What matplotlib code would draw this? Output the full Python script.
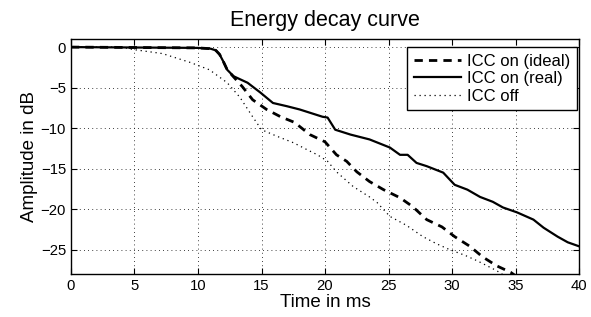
import matplotlib
matplotlib.use("Agg")
import matplotlib.pyplot as plt

plt.rcParams['font.family'] = ['Liberation Sans', 'DejaVu Sans']

# ICC on (real)
t_real = [0, 5, 10, 11, 11.4, 11.7, 12.0, 12.3, 12.8, 13.9, 14.9, 15.9, 17.0, 18.0,
          19.0, 19.8, 20.2, 20.8, 22.0, 23.5, 25.1, 25.9, 26.5, 27.2, 28.0, 29.3,
          30.2, 31.2, 32.2, 33.2, 34.0, 35.1, 36.4, 37.2, 38.3, 39.1, 40]
y_real = [0, -0.05, -0.1, -0.2, -0.4, -0.9, -1.8, -2.8, -3.6, -4.4, -5.6, -6.9, -7.3,
          -7.7, -8.2, -8.6, -8.7, -10.2, -10.8, -11.4, -12.4, -13.3, -13.3, -14.3,
          -14.7, -15.5, -17.0, -17.6, -18.5, -19.1, -19.8, -20.4, -21.3, -22.3,
          -23.4, -24.1, -24.6]

# ICC on (ideal)
t_ideal = [0, 5, 10, 11, 11.4, 11.7, 12.0, 12.3, 13.5, 14.3, 15.4, 16.5, 17.6, 18.8,
           20.0, 20.9, 21.7, 22.5, 23.5, 24.6, 25.9, 26.9, 28.0, 29.2, 30.2, 31.4,
           32.4, 33.5, 34.6, 35.5]
y_ideal = [0, -0.05, -0.1, -0.2, -0.4, -0.9, -1.8, -2.8, -4.9, -6.5, -7.7, -8.6, -9.3,
           -10.8, -11.7, -13.3, -14.1, -15.4, -16.6, -17.6, -18.6, -19.7, -21.3,
           -22.2, -23.4, -24.6, -25.9, -27.0, -27.8, -28.8]

# ICC off
t_off = [0, 4, 4.9, 7.2, 9.4, 10.9, 12.3, 13.3, 14.3, 15.0, 16.2, 17.5, 18.5, 19.4,
         20.2, 20.9, 22.2, 23.5, 24.1, 25.1, 26.4, 27.7, 28.8, 29.8, 31.0, 32.0,
         33.5, 34.5]
y_off = [0, 0, -0.3, -0.8, -1.9, -2.8, -4.4, -6.2, -8.6, -10.2, -11.0, -11.8, -12.6,
         -13.3, -14.1, -15.4, -17.2, -18.5, -19.2, -20.9, -22.0, -23.4, -24.3, -25.0,
         -25.7, -26.4, -27.6, -28.6]

fig = plt.figure(figsize=(5.91, 3.17), dpi=100)
ax = fig.add_axes([0.120, 0.136, 0.860, 0.741])

ax.plot(t_ideal, y_ideal, color='black', lw=2.0, linestyle=(0, (3, 2.2)), label='ICC on (ideal)')
ax.plot(t_real, y_real, color='black', lw=1.6, linestyle='-', label='ICC on (real)')
ax.plot(t_off, y_off, color='black', lw=0.9, linestyle=(0, (1, 3)), label='ICC off')

ax.set_xlim(0, 40)
ax.set_ylim(-28, 1)
ax.set_xticks(range(0, 41, 5))
ax.set_yticks([0, -5, -10, -15, -20, -25])
ax.set_yticklabels(['0', '\u22125', '\u221210', '\u221215', '\u221220', '\u221225'])
ax.grid(True, color='black', linestyle=(0, (1, 4)), linewidth=0.6)
ax.tick_params(direction='in', top=True, right=True, labelsize=10.7, length=4, width=0.8)
for s in ax.spines.values():
    s.set_linewidth(1.0)

ax.set_title('Energy decay curve', fontsize=15.5, pad=9)
ax.set_xlabel('Time in ms', fontsize=13.5, labelpad=1)
ax.set_ylabel('Amplitude in dB', fontsize=13.5, labelpad=2)

leg = ax.legend(loc='upper right', bbox_to_anchor=(0.996, 0.966), fontsize=12,
                fancybox=False, framealpha=1, edgecolor='black', borderpad=0.4,
                labelspacing=0.15, handlelength=2.8, handletextpad=0.4, borderaxespad=0)
leg.get_frame().set_linewidth(1.0)

fig.savefig('out.png', dpi=100)
